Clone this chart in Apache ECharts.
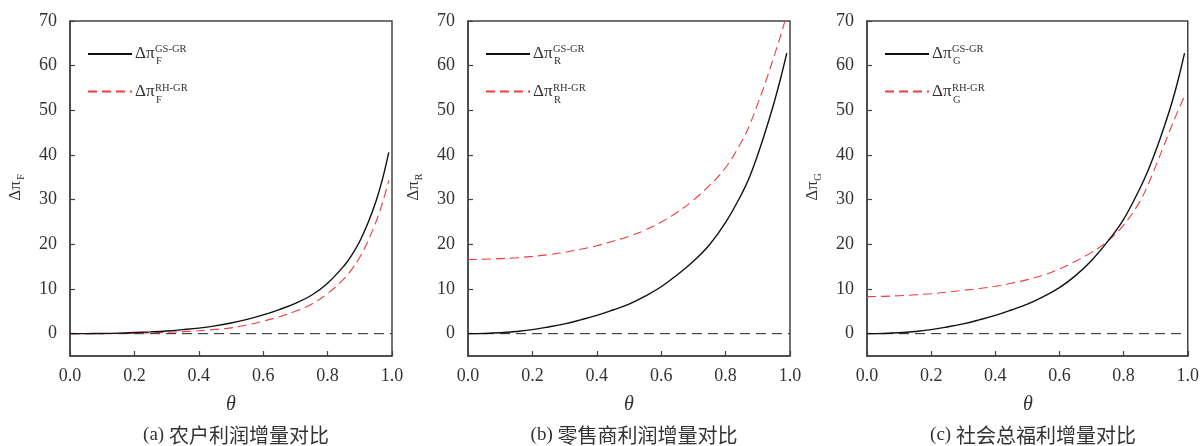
<!DOCTYPE html>
<html>
<head>
<meta charset="utf-8">
<script src="https://cdn.jsdelivr.net/npm/echarts@6/dist/echarts.min.js"></script>
<style>html,body{margin:0;padding:0;background:#fff;}#c{width:1202px;height:446px;}</style>
</head>
<body>
<div id="c"></div>
<script>
// ---- data ----
const theta = [0,0.05,0.1,0.15,0.2,0.25,0.3,0.35,0.4,0.45,0.5,0.55,0.6,0.65,0.7,0.75,0.8,0.85,0.875,0.9,0.925,0.95,0.97,0.99];
const farmerGS = [0,0.01,0.05,0.12,0.25,0.4,0.6,0.9,1.25,1.75,2.4,3.2,4.2,5.4,6.8,8.6,11.3,15.1,17.6,20.7,24.7,29.6,34.5,40.6];
const farmerRH = [0,0,0.02,0.05,0.1,0.18,0.3,0.45,0.65,0.95,1.3,1.95,2.8,3.8,5.0,6.6,9.0,12.2,14.4,17.1,20.7,25.0,29.2,34.3];
const retailGS = [0,0.05,0.2,0.5,0.9,1.5,2.2,3.1,4.1,5.3,6.6,8.4,10.5,13.2,16.2,19.9,24.9,31.3,35.2,40.1,45.6,51.6,56.9,62.8];
const retailRH = [16.6,16.65,16.8,17.0,17.3,17.7,18.2,18.9,19.7,20.7,21.8,23.2,25.0,27.2,29.9,33.2,37.2,43.0,46.8,51.5,56.5,62.0,66.5,71.5];
const welfareGS = [0,0.05,0.2,0.5,0.9,1.5,2.2,3.1,4.1,5.3,6.6,8.3,10.3,13.0,16.4,20.6,25.6,32.4,36.3,40.9,46.0,51.6,56.8,62.8];
const welfareRH = [8.3,8.35,8.5,8.7,8.95,9.3,9.7,10.1,10.6,11.3,12.1,13.1,14.5,16.2,18.2,20.7,24.3,29.5,33.2,37.5,42.0,46.5,50.0,53.2];
const zeroLine = [[0, 0], [1, 0]];
const xTickLabels = [0,0.2,0.4,0.6,0.8,1.0];
const yTickLabels = [0,10,20,30,40,50,60,70];
const subscripts = ['F','R','G'];
const captionTags = ['(a)','(b)','(c)'];
const captionTexts = ['农户利润增量对比','零售商利润增量对比','社会总福利增量对比'];
const supGS = 'GS-GR', supRH = 'RH-GR';
const seriesGS = [farmerGS, retailGS, welfareGS];
const seriesRH = [farmerRH, retailRH, welfareRH];

// ---- layout ----
const gridLefts = [70, 468, 867];
const gridW = 322, gridTop = 21, gridH = 335;
const serif = '"Liberation Serif","Times New Roman",serif';
const axisColor = '#444';
const textColor = '#333';

const grids = [], xAxes = [], yAxes = [], series = [], legends = [], graphics = [];
for (let i = 0; i < 3; i++) {
  const L = gridLefts[i];
  grids.push({left: L, top: gridTop, width: gridW, height: gridH, show: true, borderColor: axisColor, borderWidth: 1.5, backgroundColor: 'transparent'});
  xAxes.push({
    gridIndex: i, type: 'value', min: 0, max: 1, interval: 0.2,
    axisLine: {show: true, onZero: false, lineStyle: {color: axisColor, width: 1.5}},
    axisTick: {show: true, inside: true, length: 5, lineStyle: {color: axisColor, width: 1.2}},
    axisLabel: {margin: 11, color: textColor, fontFamily: serif, fontSize: 18, formatter: v => v.toFixed(1), customValues: xTickLabels},
    splitLine: {show: false}
  });
  yAxes.push({
    gridIndex: i, type: 'value', min: -5, max: 70,
    axisLine: {show: true, onZero: false, lineStyle: {color: axisColor, width: 1.5}},
    axisTick: {show: true, inside: true, length: 5, lineStyle: {color: axisColor, width: 1.2}, customValues: yTickLabels},
    axisLabel: {margin: 13, color: textColor, fontFamily: serif, fontSize: 18, customValues: yTickLabels},
    splitLine: {show: false}
  });
  const gsName = 'GS' + i, rhName = 'RH' + i;
  series.push({
    name: 'zero' + i, type: 'line', xAxisIndex: i, yAxisIndex: i,
    data: zeroLine, symbol: 'none', silent: true,
    lineStyle: {color: '#222', width: 1, type: [10, 6]}, z: 1
  });
  series.push({
    name: gsName, type: 'line', xAxisIndex: i, yAxisIndex: i,
    data: theta.map((t, k) => [t, seriesGS[i][k]]),
    symbol: 'none', showSymbol: false, smooth: 0.4,
    lineStyle: {color: '#111', width: 1.4},
    itemStyle: {color: '#111'},
    z: 3
  });
  series.push({
    name: rhName, type: 'line', xAxisIndex: i, yAxisIndex: i,
    data: theta.map((t, k) => [t, seriesRH[i][k]]),
    symbol: 'none', showSymbol: false, smooth: 0.4,
    lineStyle: {color: '#f03c3c', width: 1.1, type: [9, 5]},
    itemStyle: {color: '#f03c3c'},
    z: 2
  });
  legends.push({
    data: [gsName, rhName], orient: 'vertical', left: L + 17, top: 47, padding: 0,
    itemWidth: 44, itemHeight: 14, itemGap: 25, selectedMode: false,
    itemStyle: {opacity: 0, borderWidth: 0},
    formatter: () => '', textStyle: {fontSize: 1}
  });
  // legend labels
  const rows = [[supGS, 55], [supRH, 93.5]];
  rows.forEach(([sup, cy]) => {
    graphics.push({type: 'text', left: L + 65, top: cy - 10, style: {text: 'Δπ', font: '17px ' + serif, fill: textColor}});
    graphics.push({type: 'text', left: L + 85, top: cy - 11, style: {text: sup, font: '10.5px ' + serif, fill: textColor}});
    graphics.push({type: 'text', left: L + 86, top: cy + 1, style: {text: subscripts[i], font: '10.5px ' + serif, fill: textColor}});
  });
  // y axis name (rotated)
  graphics.push({type: 'text', x: L - 54, y: 191, rotation: Math.PI / 2,
    style: {text: 'Δπ', font: '17px ' + serif, fill: textColor, align: 'center', verticalAlign: 'middle'}});
  graphics.push({type: 'text', x: L - 49, y: 177, rotation: Math.PI / 2,
    style: {text: subscripts[i], font: '10.5px ' + serif, fill: textColor, align: 'center', verticalAlign: 'middle'}});
  // x axis name
  graphics.push({type: 'text', x: L + gridW / 2, y: 405,
    style: {text: 'θ', font: 'italic 20px ' + serif, fill: textColor, align: 'center', verticalAlign: 'middle'}});
  // caption
  graphics.push({type: 'text', x: L + gridW / 2 + 5, y: 435,
    style: {text: '{t|' + captionTags[i] + ' }{c|' + captionTexts[i] + '}', align: 'center', verticalAlign: 'middle',
      rich: {t: {font: '19px ' + serif, fill: textColor}, c: {font: '20px "Noto Sans CJK SC", sans-serif', fill: textColor}}}});
}

const chart = echarts.init(document.getElementById('c'), null, {renderer: 'canvas'});
chart.setOption({
  animation: false,
  backgroundColor: '#fff',
  grid: grids, xAxis: xAxes, yAxis: yAxes, series: series, legend: legends,
  graphic: graphics
});
</script>
</body>
</html>
